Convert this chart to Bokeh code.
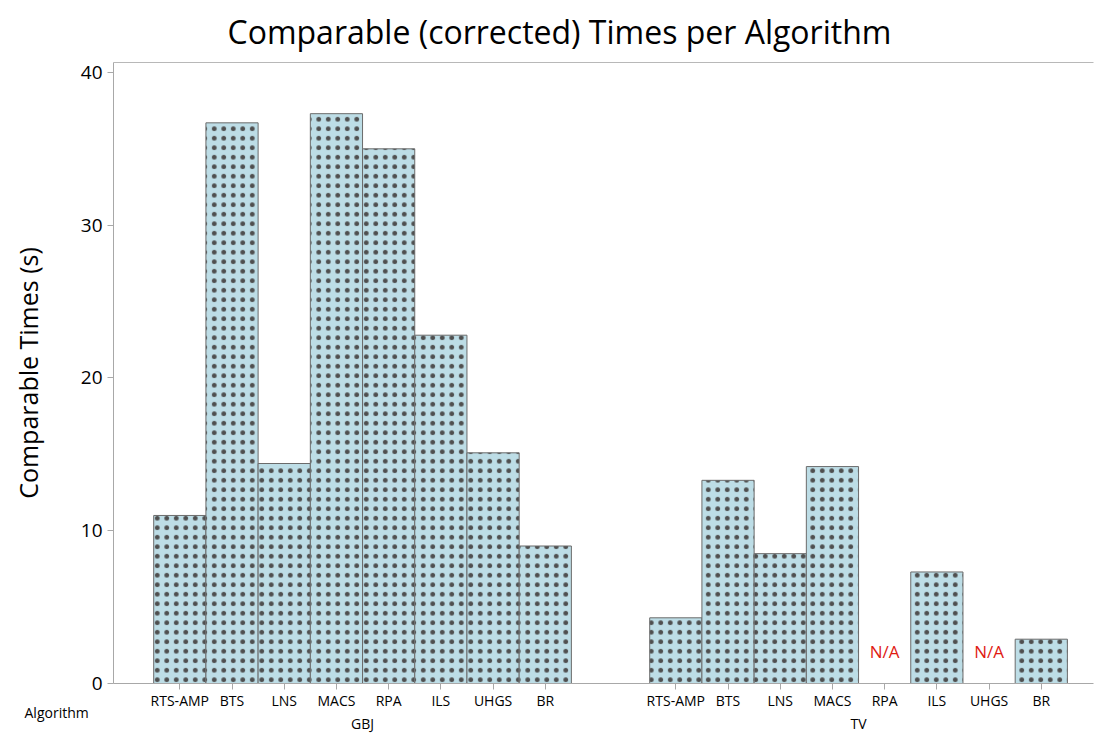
from bokeh.plotting import figure
from bokeh.models import (ColumnDataSource, Range1d, LinearAxis, FixedTicker, Title)
from bokeh.core.properties import value
from bokeh.embed import file_html
from bokeh.resources import INLINE

algorithms = ["RTS-AMP", "BTS", "LNS", "MACS", "RPA", "ILS", "UHGS", "BR"]
groups = ["GBJ", "TV"]
gbj_times = [11.0, 36.7, 14.4, 37.3, 35.0, 22.8, 15.1, 9.0]
tv_times = [4.3, 13.3, 8.5, 14.2, None, 7.3, None, 2.9]
y_ticks = [0, 10, 20, 30, 40]

FONT = "Open Sans"
group_gap = 1.5
n = len(algorithms)

xs, tops, labels_map = [], [], {}
na_x = []
for gi, vals in enumerate([gbj_times, tv_times]):
    base = gi * (n + group_gap)
    for i, v in enumerate(vals):
        cx = base + i + 0.5
        labels_map[cx] = algorithms[i]
        if v is None:
            na_x.append(cx)
        else:
            xs.append(cx)
            tops.append(v)

src = ColumnDataSource(dict(x=xs, top=tops))

p = figure(width=1094, height=735, output_backend="svg", toolbar_location=None,
           x_range=Range1d(-0.77, 2 * n + group_gap + 0.5),
           y_range=Range1d(0, 40.65),
           min_border_left=113, min_border_right=1, min_border_top=62, min_border_bottom=50,
           x_axis_location=None, y_axis_location=None)
p.outline_line_color = None
p.xgrid.visible = False
p.ygrid.visible = False

p.title.text = "Comparable (corrected) Times per Algorithm"
p.title.text_font = FONT
p.title.text_font_size = "32px"
p.title.text_font_style = "normal"
p.title.text_color = "#000000"
p.title.align = "left"
p.title.vertical_align = "top"
p.title.offset = 114
p.title.standoff = 16

p.vbar(x="x", top="top", width=1.0, bottom=0, source=src,
       fill_color="#bddde6", line_color="#6b6b6b", line_width=1,
       hatch_pattern="dot", hatch_color="#4f4f4f", hatch_scale=9.5, hatch_weight=0.5)

p.text(x=na_x, y=[2.1] * len(na_x), text=["N/A"] * len(na_x), text_color="#e01a12",
       text_font=value(FONT), text_font_size="17px", text_align="center",
       text_baseline="middle")

# y axis
yax = LinearAxis(ticker=FixedTicker(ticks=y_ticks), axis_label="Comparable Times (s)")
yax.axis_line_color = "#a8a8a8"
yax.major_tick_line_color = "#a8a8a8"
yax.major_tick_out = 6
yax.major_tick_in = 0
yax.minor_tick_line_color = None
yax.major_label_text_font = FONT
yax.major_label_text_font_size = "19px"
yax.major_label_text_color = "#000000"
yax.axis_label_text_font = FONT
yax.axis_label_text_font_size = "25px"
yax.axis_label_text_font_style = "normal"
yax.axis_label_text_color = "#000000"
yax.axis_label_standoff = 33
p.add_layout(yax, "left")

# top line
tax = LinearAxis(ticker=FixedTicker(ticks=[]))
tax.axis_line_color = "#b8b8b8"
tax.major_tick_line_color = None
tax.minor_tick_line_color = None
tax.major_label_text_font_size = "0px"
tax.axis_label_standoff = 0
tax.major_label_standoff = 0
p.add_layout(tax, "above")

# x axis with algorithm labels
xax = LinearAxis(ticker=FixedTicker(ticks=list(labels_map.keys())))
xax.major_label_overrides = {k: v for k, v in labels_map.items()}
xax.axis_line_color = "#a8a8a8"
xax.major_tick_line_color = "#a8a8a8"
xax.major_tick_out = 6
xax.major_tick_in = 0
xax.minor_tick_line_color = None
xax.major_label_text_font = FONT
xax.major_label_text_font_size = "14px"
xax.major_label_text_color = "#000000"
xax.major_label_standoff = 1
xax.axis_label_standoff = 0
p.add_layout(xax, "below")

# "Algorithm" row label, pulled up beside the tick labels
alg_title = Title(text="Algorithm", text_font=FONT, text_font_size="14px",
                  text_font_style="normal", text_color="#000000",
                  align="left", vertical_align="top", offset=-89, standoff=-20)
p.add_layout(alg_title, "below")

# group labels axis
gcent = [gi * (n + group_gap) + n / 2 for gi in range(len(groups))]
gax = LinearAxis(ticker=FixedTicker(ticks=gcent))
gax.major_label_overrides = {c: g for c, g in zip(gcent, groups)}
gax.axis_line_color = None
gax.major_tick_line_color = None
gax.minor_tick_line_color = None
gax.major_tick_out = 0
gax.major_tick_in = 0
gax.major_label_text_font = FONT
gax.major_label_text_font_size = "14px"
gax.major_label_text_color = "#000000"
gax.major_label_standoff = 0
gax.axis_label_standoff = 0
p.add_layout(gax, "below")

open("out.html", "w").write(file_html(p, INLINE))
